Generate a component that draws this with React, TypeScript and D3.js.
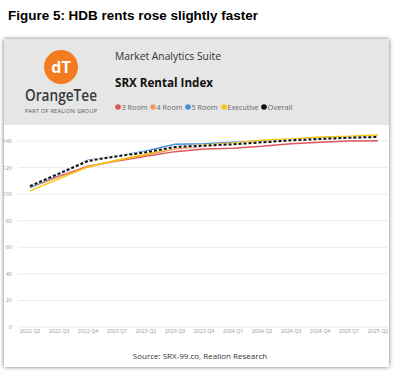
import React from "react";
import * as d3 from "d3";

const quarters = ["2022 Q2","2022 Q3","2022 Q4","2023 Q1","2023 Q2","2023 Q3","2023 Q4","2024 Q1","2024 Q2","2024 Q3","2024 Q4","2025 Q1","2025 Q2"];
const room3 = [106, 113.5, 121, 125, 128.5, 132, 134, 134.5, 136, 138, 139, 140, 140.2];
const room4 = [105, 113, 120.5, 125.5, 129.5, 134, 136, 137.5, 139, 140.5, 141.5, 142.5, 143];
const room5 = [105, 115, 125.5, 128.5, 132.5, 137.5, 138, 139, 140, 141, 142, 142.5, 143.5];
const executive = [102.5, 111.5, 120.5, 125.5, 130, 135.5, 137, 138.5, 140.5, 141.5, 143, 143.5, 144.5];
const overall = [106, 115.5, 125, 128.5, 131.5, 135.5, 136.5, 137.5, 139, 140.5, 141.5, 142.5, 143];
const yTicks = [0, 20, 40, 60, 80, 100, 120, 140];
const seriesNames = ["3 Room", "4 Room", "5 Room", "Executive", "Overall"];
const seriesColors = ["#E0555A", "#F09A6A", "#4A90D9", "#F2C811", "#111111"];

export default function App() {
  const x = d3.scalePoint<string>().domain(quarters).range([30, 378]);
  const y = d3.scaleLinear().domain([0, 140]).range([327, 141]);
  const line = d3.line<number>().x((_, i) => x(quarters[i]) as number).y((v) => y(v));
  const data = [room3, room4, room5, executive, overall];
  const legendX = [118, 153, 188, 224, 264];
  const legendW = [26, 26, 26, 31, 25];
  const font = "'Open Sans', 'Noto Sans', sans-serif";
  return (
    <svg width={396} height={375} style={{ position: "absolute", left: 0, top: 0 }} fontFamily={font}>
      <defs>
        <filter id="sh" x="-5%" y="-5%" width="110%" height="110%">
          <feDropShadow dx="0" dy="0" stdDeviation="2.2" floodColor="#000" floodOpacity="0.55" />
        </filter>
      </defs>
      <rect width={396} height={375} fill="#fff" />
      <text x={8} y={20} fontSize={13} fontWeight="bold" fill="#000" fontFamily="'Liberation Sans', Arial, sans-serif" textLength={250} lengthAdjust="spacingAndGlyphs">Figure 5: HDB rents rose slightly faster</text>
      <rect x={4} y={39} width={385} height={328} fill="#fff" filter="url(#sh)" />
      <rect x={4} y={39} width={385} height={86} fill="#E6E6E6" />
      <circle cx={61} cy={67} r={17} fill="#F47B20" />
      <text x={61} y={73} textAnchor="middle" fontSize={16} fontWeight="bold" fill="#fff">dT</text>
      <text x={61} y={101} textAnchor="middle" fontSize={17} fontWeight={600} fill="#3a3a3a" textLength={72} lengthAdjust="spacingAndGlyphs">OrangeTee</text>
      <text x={61} y={113} textAnchor="middle" fontSize={5.5} fill="#555" textLength={72} lengthAdjust="spacing">PART OF REALION GROUP</text>
      <text x={115} y={60} fontSize={11} fill="#333" textLength={106} lengthAdjust="spacingAndGlyphs">Market Analytics Suite</text>
      <text x={115} y={87} fontSize={13} fontWeight="bold" fill="#111" textLength={98} lengthAdjust="spacingAndGlyphs">SRX Rental Index</text>
      {seriesNames.map((n, i) => (
        <g key={n}>
          <circle cx={legendX[i]} cy={107} r={2.8} fill={seriesColors[i]} />
          <text x={legendX[i] + 3.5} y={110} fontSize={7.5} fill="#666" textLength={legendW[i]} lengthAdjust="spacingAndGlyphs">{n}</text>
        </g>
      ))}
      {yTicks.map((t) => (
        <g key={t}>
          <line x1={18} x2={388} y1={y(t)} y2={y(t)} stroke="#EBEBEB" strokeWidth={1} />
          <text x={12} y={y(t) + 2} textAnchor="end" fontSize={5.5} fill="#999">{t}</text>
        </g>
      ))}
      {quarters.map((q) => (
        <text key={q} x={x(q)} y={333} textAnchor="middle" fontSize={5.3} fill="#999">{q}</text>
      ))}
      {data.slice(0, 4).map((d, i) => (
        <path key={i} d={line(d) || ""} fill="none" stroke={seriesColors[i]} strokeWidth={1.5} />
      ))}
      <path d={line(overall) || ""} fill="none" stroke="#fff" strokeWidth={2} />
      <path d={line(overall) || ""} fill="none" stroke="#111" strokeWidth={2} strokeDasharray="3,2" />
      <text x={200} y={359} textAnchor="middle" fontSize={8} fill="#333">Source: SRX-99.co, Realion Research</text>
    </svg>
  );
}
